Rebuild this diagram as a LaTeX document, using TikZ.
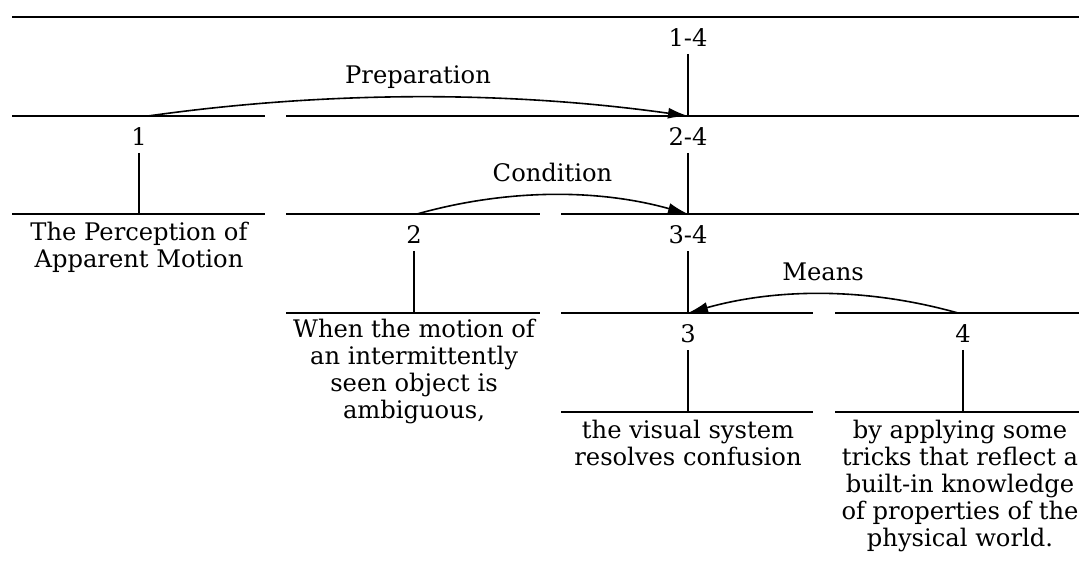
\documentclass[tikz,border=0pt]{standalone}
\usepackage{fontspec}
\setmainfont{DejaVu Serif}
\usetikzlibrary{positioning,arrows.meta}
\newcommand{\rstfont}{\fontsize{12.1}{13.5}\selectfont}

\begin{document}
\begin{tikzpicture}[x=0.5pt,y=0.5pt,
  bar/.style={line width=1.2pt},
  stem/.style={line width=0.9pt},
  rel/.style={line width=0.8pt,-{Latex[length=10pt,width=5.5pt]}},
  num/.style={inner sep=3.5pt,font=\rstfont},
  leaf/.style={inner sep=2pt,align=center,font=\rstfont},
  rlabel/.style={anchor=base,yshift=7pt,font=\rstfont}]
\useasboundingbox (0,0) rectangle (1079,-571);
\draw[bar] (12,-17) -- (1079,-17);
\draw[bar] (12,-116) -- (265,-116);
\draw[bar] (286,-116) -- (1079,-116);
\draw[bar] (12,-214) -- (265,-214);
\draw[bar] (286,-214) -- (540,-214);
\draw[bar] (561,-214) -- (1079,-214);
\draw[bar] (286,-313) -- (540,-313);
\draw[bar] (561,-313) -- (813,-313);
\draw[bar] (835,-313) -- (1079,-313);
\draw[bar] (561,-412) -- (813,-412);
\draw[bar] (835,-412) -- (1079,-412);
\coordinate (t14) at (688,-17);
\coordinate (b14) at (688,-116);
\coordinate (t1) at (139,-116);
\coordinate (b1) at (139,-214);
\coordinate (t24) at (688,-116);
\coordinate (b24) at (688,-214);
\coordinate (t2) at (414,-214);
\coordinate (b2) at (414,-313);
\coordinate (t34) at (688,-214);
\coordinate (b34) at (688,-313);
\coordinate (t3) at (688,-313);
\coordinate (b3) at (688,-412);
\coordinate (t4) at (963,-313);
\coordinate (b4) at (963,-412);
\coordinate (o1) at (148,-116);
\coordinate (o2) at (417,-214);
\coordinate (o4) at (958,-313);
\node[num, below=2pt of t14] (n14) {1-4};
\node[num, below=2pt of t1] (n1) {1};
\node[num, below=2pt of t24] (n24) {2-4};
\node[num, below=2pt of t2] (n2) {2};
\node[num, below=2pt of t34] (n34) {3-4};
\node[num, below=2pt of t3] (n3) {3};
\node[num, below=2pt of t4] (n4) {4};
\draw[stem] (n14) -- (b14);
\draw[stem] (n1) -- (b1);
\draw[stem] (n24) -- (b24);
\draw[stem] (n2) -- (b2);
\draw[stem] (n34) -- (b34);
\draw[stem] (n3) -- (b3);
\draw[stem] (n4) -- (b4);
\node[leaf, below=2pt of b1] (l1) {The Perception of\\Apparent Motion};
\node[leaf, below=1pt of b2] (l2) {When the motion of\\an intermittently\\seen object is\\ambiguous,};
\node[leaf, below=2pt of b3] (l3) {the visual system\\resolves confusion};
\node[leaf, below=2pt of b4, xshift=-1.5pt] (l4) {by applying some\\tricks that reflect a\\built-in knowledge\\of properties of the\\physical world.};
\draw[rel] (o1) .. controls +(180,25.3) and +(-180,25.3) .. (b14) node[rlabel, pos=0.5] (r1) {Preparation};
\draw[rel] (o2) .. controls +(90,25.3) and +(-90,25.3) .. (b24) node[rlabel, pos=0.5] (r2) {Condition};
\draw[rel] (o4) .. controls +(-90,25.3) and +(90,25.3) .. (b34) node[rlabel, pos=0.5] (r3) {Means};
\end{tikzpicture}
\end{document}
